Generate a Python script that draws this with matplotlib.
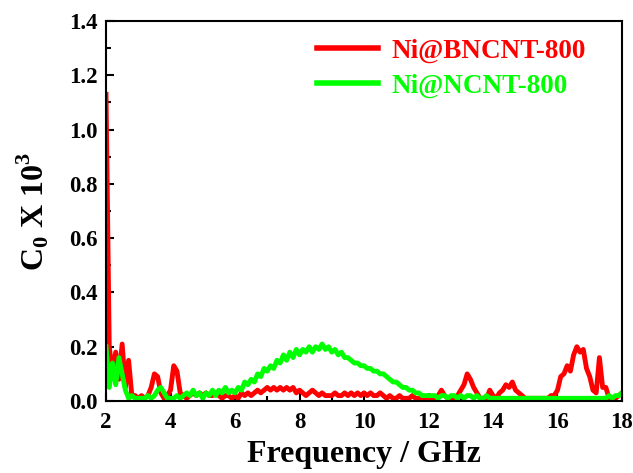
import numpy as np
import matplotlib
matplotlib.use("Agg")
import matplotlib.pyplot as plt
from matplotlib.ticker import MultipleLocator

plt.rcParams['font.family'] = ['Liberation Serif', 'DejaVu Serif']
plt.rcParams['font.weight'] = 'bold'
plt.rcParams['mathtext.fontset'] = 'custom'
plt.rcParams['mathtext.rm'] = 'Liberation Serif:bold'
plt.rcParams['mathtext.bf'] = 'Liberation Serif:bold'

freq_start, freq_stop, freq_step = 2.0, 18.0, 0.1

c0_bncnt = [
    1.13, 0.20, 0.10, 0.18, 0.08, 0.21, 0.05, 0.15, 0.02, 0.02,   # 2.0-2.9
    0.01, 0.02, 0.01, 0.02, 0.05, 0.10, 0.09, 0.03, 0.01, 0.02,   # 3.0-3.9
    0.04, 0.13, 0.11, 0.03, 0.02, 0.01, 0.02, 0.03, 0.02, 0.03,   # 4.0-4.9
    0.02, 0.03, 0.02, 0.02, 0.03, 0.02, 0.01, 0.02, 0.02, 0.01,   # 5.0-5.9
    0.02, 0.01, 0.03, 0.02, 0.03, 0.02, 0.03, 0.04, 0.03, 0.04,   # 6.0-6.9
    0.05, 0.04, 0.05, 0.04, 0.05, 0.04, 0.05, 0.04, 0.05, 0.03,   # 7.0-7.9
    0.04, 0.03, 0.02, 0.03, 0.04, 0.03, 0.02, 0.03, 0.02, 0.02,   # 8.0-8.9
    0.02, 0.03, 0.02, 0.02, 0.03, 0.02, 0.03, 0.02, 0.03, 0.02,   # 9.0-9.9
    0.03, 0.02, 0.03, 0.02, 0.02, 0.03, 0.02, 0.01, 0.02, 0.01,   # 10.0-10.9
    0.01, 0.02, 0.01, 0.01, 0.01, 0.02, 0.01, 0.01, 0.01, 0.01,   # 11.0-11.9
    0.01, 0.01, 0.01, 0.02, 0.04, 0.02, 0.01, 0.01, 0.01, 0.02,   # 12.0-12.9
    0.04, 0.06, 0.10, 0.08, 0.05, 0.03, 0.01, 0.01, 0.01, 0.04,   # 13.0-13.9
    0.02, 0.01, 0.03, 0.04, 0.06, 0.05, 0.07, 0.04, 0.03, 0.02,   # 14.0-14.9
    0.01, 0.01, 0.01, 0.01, 0.01, 0.01, 0.01, 0.01, 0.02, 0.02,   # 15.0-15.9
    0.04, 0.09, 0.10, 0.13, 0.11, 0.17, 0.20, 0.18, 0.19, 0.12,   # 16.0-16.9
    0.09, 0.04, 0.03, 0.16, 0.05, 0.05, 0.01, 0.01, 0.01, 0.02,   # 17.0-17.9
    0.03,                                                         # 18.0
]

c0_ncnt = [
    0.20, 0.05, 0.14, 0.06, 0.16, 0.10, 0.04, 0.01, 0.02, 0.01,   # 2.0-2.9
    0.01, 0.01, 0.01, 0.02, 0.01, 0.02, 0.04, 0.05, 0.03, 0.01,   # 3.0-3.9
    0.01, 0.01, 0.02, 0.01, 0.02, 0.03, 0.02, 0.04, 0.02, 0.03,   # 4.0-4.9
    0.01, 0.03, 0.02, 0.04, 0.02, 0.04, 0.03, 0.05, 0.03, 0.04,   # 5.0-5.9
    0.03, 0.05, 0.04, 0.07, 0.06, 0.08, 0.07, 0.10, 0.09, 0.12,   # 6.0-6.9
    0.11, 0.13, 0.12, 0.15, 0.14, 0.17, 0.15, 0.18, 0.16, 0.19,   # 7.0-7.9
    0.17, 0.19, 0.18, 0.20, 0.18, 0.20, 0.19, 0.21, 0.19, 0.20,   # 8.0-8.9
    0.18, 0.19, 0.17, 0.18, 0.16, 0.16, 0.15, 0.14, 0.14, 0.13,   # 9.0-9.9
    0.13, 0.12, 0.12, 0.11, 0.11, 0.10, 0.10, 0.09, 0.08, 0.07,   # 10.0-10.9
    0.07, 0.06, 0.05, 0.05, 0.04, 0.04, 0.03, 0.03, 0.02, 0.02,   # 11.0-11.9
    0.02, 0.02, 0.02, 0.01, 0.02, 0.02, 0.01, 0.02, 0.02, 0.01,   # 12.0-12.9
    0.02, 0.01, 0.02, 0.02, 0.01, 0.02, 0.01, 0.01, 0.02, 0.01,   # 13.0-13.9
    0.01, 0.01, 0.01, 0.01, 0.01, 0.01, 0.01, 0.01, 0.01, 0.01,   # 14.0-14.9
    0.01, 0.01, 0.01, 0.01, 0.01, 0.01, 0.01, 0.01, 0.01, 0.01,   # 15.0-15.9
    0.01, 0.01, 0.01, 0.01, 0.01, 0.01, 0.01, 0.01, 0.01, 0.01,   # 16.0-16.9
    0.01, 0.01, 0.01, 0.01, 0.01, 0.01, 0.02, 0.01, 0.02, 0.02,   # 17.0-17.9
    0.03,                                                         # 18.0
]

series_labels = ['Ni@BNCNT-800', 'Ni@NCNT-800']
series_colors = ['#ff0000', '#00ff00']

freq = np.linspace(freq_start, freq_stop, len(c0_bncnt))

fig = plt.figure(figsize=(6.33, 4.73), dpi=100)
ax = fig.add_axes([0.1675, 0.1522, 0.8151, 0.8034])

for y, lab, col in zip([c0_bncnt, c0_ncnt], series_labels, series_colors):
    ax.plot(freq, y, color=col, lw=3.5, label=lab, solid_joinstyle='round')

ax.set_xlim(2, 18)
ax.set_ylim(0, 1.4)
ax.xaxis.set_major_locator(MultipleLocator(2))
ax.xaxis.set_minor_locator(MultipleLocator(1))
ax.yaxis.set_major_locator(MultipleLocator(0.2))
ax.yaxis.set_minor_locator(MultipleLocator(0.1))
ax.yaxis.set_major_formatter(matplotlib.ticker.FormatStrFormatter('%.1f'))
ax.tick_params(which='both', direction='in', top=False, right=False, width=1.5)
ax.tick_params(which='major', length=6, labelsize=16.5)
ax.tick_params(axis='x', which='major', pad=8)
ax.tick_params(axis='y', which='major', pad=6)
ax.tick_params(which='minor', length=3.5)
for s in ax.spines.values():
    s.set_linewidth(1.5)

ax.set_xlabel('Frequency / GHz', fontsize=23, fontweight='bold', labelpad=5)
ax.set_ylabel(r'C$_0$ X 10$^3$', fontsize=23, fontweight='bold', labelpad=13)

leg = ax.legend(loc='upper right', bbox_to_anchor=(0.978, 1.017), frameon=False,
                fontsize=19.5, handlelength=2.25, handletextpad=0.5,
                labelspacing=0.35, labelcolor='linecolor')
for line in leg.get_lines():
    line.set_linewidth(4)

fig.savefig('out.png', dpi=100)
